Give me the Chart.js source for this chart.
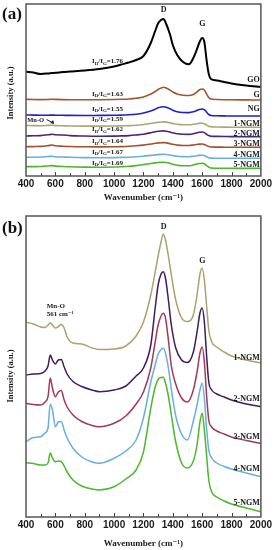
<!DOCTYPE html>
<html>
<head>
<meta charset="utf-8">
<script src="https://cdn.jsdelivr.net/npm/chart.js@4.4.1/dist/chart.umd.min.js"></script>
<style>
  html, body { margin: 0; padding: 0; background: #fff; }
  #wrapA { position: absolute; left: 0; top: 0; width: 274px; height: 208px; }
  #wrapB { position: absolute; left: 0; top: 208px; width: 274px; height: 342px; }
</style>
</head>
<body>
<div id="wrapA"><canvas id="chartA"></canvas></div>
<div id="wrapB"><canvas id="chartB"></canvas></div>
<script>
// ---- panel (a): offset Raman spectra (intensity in a.u., stacked) ----
const wavenumberA = [400, 450, 500, 550, 580, 600, 650, 700, 800, 900, 1000, 1050, 1100, 1150, 1200, 1250, 1280, 1300, 1320, 1337, 1355, 1380, 1400, 1430, 1470, 1510, 1540, 1560, 1580, 1600, 1615, 1630, 1645, 1660, 1700, 1750, 1800, 1900, 2000];
const goA =   [104.3, 103.5, 102, 102.5, 103, 103.2, 104, 104.5, 105.5, 107, 109.5, 111.5, 113.5, 116, 120, 133, 145, 152.7, 156, 157, 152, 142, 131, 121, 114, 111.7, 118, 125, 133, 138, 134, 116, 102, 97, 95.5, 94, 92.5, 90.5, 89];
const gA =    [76.7, 76.5, 76.4, 76.5, 76.7, 76.6, 76.4, 76.3, 76.2, 76.3, 76.5, 76.7, 77, 77.7, 79, 82, 84.5, 86.5, 88, 88.7, 88, 86, 84, 82, 80.8, 80.5, 81.5, 83.5, 86, 87, 86, 82, 78.5, 77, 76.5, 76.3, 76.2, 76.1, 76];
const ngA =   [61, 60.9, 60.8, 60.8, 60.9, 60.8, 60.7, 60.6, 60.5, 60.6, 60.7, 60.9, 61.2, 61.8, 63, 65, 66.8, 68.2, 69, 69.3, 68.8, 67.3, 65.8, 64.2, 63.5, 63.4, 64.2, 65.3, 66.5, 67, 66.4, 64, 61.5, 60.5, 60.2, 60.1, 60, 60, 60];
const ngm1A = [50.5, 50.4, 50.3, 50.6, 50.7, 50.4, 50.2, 50, 49.9, 49.9, 50, 50.2, 50.4, 50.8, 51.5, 52.5, 53.2, 53.7, 54, 54.1, 53.9, 53.2, 52.5, 51.7, 51.2, 51.2, 51.7, 52.2, 52.6, 52.7, 52.3, 51, 49.8, 49.2, 49, 48.9, 48.8, 48.7, 48.7];
const ngm2A = [40, 40.2, 40.4, 41.2, 41.7, 41.2, 41, 40.4, 40, 39.8, 39.9, 40.1, 40.4, 41, 41.8, 43.2, 44.2, 44.7, 45, 45.1, 44.8, 44, 43.2, 42.2, 41.7, 41.6, 42.2, 43, 43.7, 44, 43.4, 41.8, 40.4, 39.8, 39.6, 39.5, 39.4, 39.3, 39.3];
const ngm3A = [29.3, 29.4, 29.6, 30.4, 31, 30.2, 29.8, 29.5, 29.2, 29.1, 29.2, 29.4, 29.7, 30.2, 30.9, 32, 32.7, 33.1, 33.3, 33.4, 33.1, 32.4, 31.7, 30.9, 30.5, 30.5, 31, 31.5, 31.9, 32, 31.6, 30.5, 29.4, 29, 28.9, 28.8, 28.7, 28.7, 28.7];
const ngm4A = [18.7, 18.8, 19, 19.5, 19.8, 19.3, 19, 18.7, 18.4, 18.3, 18.4, 18.6, 18.8, 19.2, 19.8, 20.6, 21.1, 21.4, 21.6, 21.7, 21.5, 21, 20.4, 19.8, 19.4, 19.3, 19.8, 20.2, 20.6, 20.7, 20.4, 19.3, 18.3, 17.9, 17.8, 17.7, 17.7, 17.7, 17.7];
const ngm5A = [9.3, 9.4, 9.5, 10, 10.4, 9.9, 9.5, 9.2, 8.9, 8.8, 9, 9.3, 9.7, 10.4, 11.4, 12.5, 13.1, 13.5, 13.7, 13.8, 13.5, 12.7, 11.7, 10.7, 10.2, 10.2, 11, 11.9, 12.5, 12.7, 12.2, 10.3, 8.7, 8, 7.8, 7.7, 7.7, 7.6, 7.6];
const namesA = ['GO', 'G', 'NG', '1-NGM', '2-NGM', '3-NGM', '4-NGM', '5-NGM'];
const ratiosA = ['1.76', '1.63', '1.55', '1.59', '1.62', '1.64', '1.67', '1.69'];

// ---- panel (b): NGM composites ----
const wavenumberB = [400, 450, 500, 530, 550, 565, 580, 600, 620, 640, 660, 680, 720, 780, 850, 900, 1000, 1080, 1150, 1200, 1250, 1280, 1300, 1320, 1335, 1350, 1370, 1390, 1420, 1460, 1500, 1540, 1565, 1585, 1600, 1615, 1630, 1645, 1665, 1700, 1750, 1800, 1900, 2000];
const ngm1B = [194.7, 193, 190, 189.5, 192, 194, 192, 189, 190.5, 192.5, 189, 180, 174, 173, 169, 167.5, 168, 171, 181, 195, 222, 245, 261, 275, 283, 277, 261, 242, 217, 199, 195.5, 202, 222, 243, 249, 237, 212, 187, 175, 170, 165, 161, 157, 154];
const ngm2B = [142, 143, 143.5, 146, 151, 162, 157, 153, 157, 157.5, 150, 143, 135.5, 130.5, 127, 125.3, 127, 131, 141, 149, 172, 209, 232, 243, 245.3, 239, 217, 192, 169, 157, 154.5, 165, 185, 204, 209, 195, 162, 135, 127, 123, 120, 117, 113, 110.3];
const ngm3B = [113.7, 112.5, 112, 115, 120.3, 139, 129, 120.3, 125, 126.5, 117, 110, 102, 95.5, 91.5, 90.3, 93.7, 101, 113, 125, 149, 175, 192, 201, 203.7, 199, 177, 151, 133, 119, 115, 127, 145, 164, 170, 155, 122, 97, 90, 86, 83, 80, 76.5, 73.7];
const ngm4B = [75.3, 79.5, 80.3, 84, 89, 113, 107, 90.3, 95, 95.5, 87, 79, 68.7, 60, 55, 53.7, 58.7, 66, 77, 99, 135, 152, 163, 167.5, 168.7, 164, 149, 128, 101, 83, 77, 96, 112, 127, 133.7, 119, 89, 67, 59, 54, 50.5, 48, 44, 40.3];
const ngm5B = [54.3, 53.5, 52, 52, 54, 64, 59, 55.3, 56, 55.3, 51, 45, 37, 31, 28, 27, 30.3, 38, 47, 65, 109, 130, 137.5, 139.5, 139.7, 134, 121, 102, 75, 54, 49, 56, 72, 95, 103.7, 87, 62, 37, 25, 20, 16, 13, 9, 5.3];
const namesB = ['1-NGM', '2-NGM', '3-NGM', '4-NGM', '5-NGM'];

const serif = '"Liberation Serif", "DejaVu Serif", serif';

function lineSet(xs, ys, color, width) {
    return {
        data: xs.map((x, i) => ({ x: x, y: ys[i] })),
        borderColor: color,
        borderWidth: width,
        pointRadius: 0,
        fill: false,
        cubicInterpolationMode: 'monotone'
    };
}

function txt(ctx, s, x, y, font, align, color) {
    ctx.font = font;
    ctx.textAlign = align || 'left';
    ctx.textBaseline = 'middle';
    ctx.fillStyle = color || '#1a1a1a';
    ctx.fillText(s, x, y);
}

// I_D/I_G=value with subscripts
function ratioText(ctx, value, x, y) {
    const parts = [['I', 'bold 7px ' + serif, 0], ['D', 'bold 5px ' + serif, 1.8], ['/I', 'bold 7px ' + serif, 0], ['G', 'bold 5px ' + serif, 1.8], ['=' + value, 'bold 7px ' + serif, 0]];
    let cx = x;
    parts.forEach(p => {
        txt(ctx, p[0], cx, y + p[2], p[1], 'left');
        cx += ctx.measureText(p[0]).width;
    });
}

// frame + inward ticks + y title + panel letter
function framePlugin(letter, letterY, yTitleY) {
    return {
        id: 'frame' + letter,
        afterDatasetsDraw(chart) {
            const ctx = chart.ctx;
            const a = chart.chartArea;
            const xs = chart.scales.x;
            ctx.save();
            ctx.strokeStyle = '#555';
            ctx.lineWidth = 1.5;
            ctx.strokeRect(a.left, a.top, a.right - a.left, a.bottom - a.top);
            ctx.lineWidth = 1;
            ctx.strokeStyle = '#444';
            for (let v = 500; v < 2000; v += 100) {
                const p = Math.round(xs.getPixelForValue(v)) + 0.5;
                ctx.beginPath();
                ctx.moveTo(p, a.bottom);
                ctx.lineTo(p, a.bottom - (v % 200 === 0 ? 4 : 3));
                ctx.stroke();
            }
            txt(ctx, '(' + letter + ')', 2, letterY, 'bold 17px ' + serif, 'left', '#111');
            ctx.translate(11, yTitleY);
            ctx.rotate(-Math.PI / 2);
            txt(ctx, 'Intensity (a.u.)', 0, 0, 'bold 8.5px ' + serif, 'center', '#1a1a1a');
            ctx.restore();
        }
    };
}

const labelsA = {
    id: 'labelsA',
    afterDatasetsDraw(chart) {
        const ctx = chart.ctx;
        const X = v => chart.scales.x.getPixelForValue(v);
        const Y = v => chart.scales.y.getPixelForValue(v);
        const nameY = [96, 81, 67, 52, 42.5, 31.7, 21, 11.5];
        const ratioY = [114.5, 82, 67, 56.7, 46.5, 34.5, 24, 13];
        ctx.save();
        namesA.forEach((n, i) => txt(ctx, n, X(1992), Y(nameY[i]), 'bold 8px ' + serif, 'right'));
        ratiosA.forEach((r, i) => ratioText(ctx, r, X(849), Y(ratioY[i])));
        txt(ctx, 'D', X(1337), Y(166), 'bold 8px ' + serif, 'center');
        txt(ctx, 'G', X(1602), Y(152), 'bold 8px ' + serif, 'center');
        txt(ctx, 'Mn-O', X(408), Y(55.5), 'bold 6.5px ' + serif, 'left');
        // small arrow to the Mn-O band
        ctx.strokeStyle = '#222';
        ctx.fillStyle = '#222';
        ctx.lineWidth = 1;
        const x0 = X(540), y0 = Y(56.5), x1 = X(585), y1 = Y(53);
        ctx.beginPath(); ctx.moveTo(x0, y0); ctx.lineTo(x1, y1); ctx.stroke();
        ctx.beginPath(); ctx.moveTo(x1 + 1, y1 + 1); ctx.lineTo(x1 - 3, y1); ctx.lineTo(x1, y1 - 3); ctx.closePath(); ctx.fill();
        ctx.restore();
    }
};

const labelsB = {
    id: 'labelsB',
    afterDatasetsDraw(chart) {
        const ctx = chart.ctx;
        const X = v => chart.scales.x.getPixelForValue(v);
        const Y = v => chart.scales.y.getPixelForValue(v);
        const nameY = [158.7, 117.7, 80.3, 48, 13.7];
        ctx.save();
        namesB.forEach((n, i) => txt(ctx, n, X(1992), Y(nameY[i]), 'bold 8px ' + serif, 'right'));
        txt(ctx, 'D', X(1337), Y(289.7), 'bold 8px ' + serif, 'center');
        txt(ctx, 'G', X(1602), Y(256), 'bold 8px ' + serif, 'center');
        txt(ctx, 'Mn-O', X(541), Y(211.3), 'bold 7px ' + serif, 'left');
        txt(ctx, '561 cm\u207B\u00B9', X(541), Y(202.7), 'bold 7px ' + serif, 'left');
        ctx.restore();
    }
};

function makeOptions(yMax, padTop, axisHeight, titlePadBottom) {
    return {
        responsive: true,
        maintainAspectRatio: false,
        animation: false,
        devicePixelRatio: 1,
        layout: { padding: { left: 26, right: 13, top: padTop, bottom: 0 } },
        plugins: { legend: { display: false }, tooltip: { enabled: false } },
        scales: {
            x: {
                type: 'linear',
                min: 400,
                max: 2000,
                grid: { display: false, drawTicks: false },
                border: { display: false },
                ticks: {
                    stepSize: 200,
                    padding: 2,
                    maxRotation: 0,
                    autoSkip: false,
                    color: '#1a1a1a',
                    font: { family: '"Liberation Sans", Arial, sans-serif', size: 10, weight: 'bold' },
                    callback: value => String(value)
                },
                title: {
                    display: true,
                    text: 'Wavenumber (cm\u207B\u00B9)',
                    color: '#1a1a1a',
                    font: { family: serif, size: 9, weight: 'bold' },
                    padding: { top: 0, bottom: titlePadBottom }
                },
                afterFit(scale) { scale.height = axisHeight; }
            },
            y: { display: false, min: 0, max: yMax }
        }
    };
}

new Chart(document.getElementById('chartA'), {
    type: 'line',
    data: {
        datasets: [
            lineSet(wavenumberA, goA, '#000000', 2),
            lineSet(wavenumberA, gA, '#a5552c', 1.6),
            lineSet(wavenumberA, ngA, '#1f1fcc', 1.6),
            lineSet(wavenumberA, ngm1A, '#a9a874', 1.6),
            lineSet(wavenumberA, ngm2A, '#4b2672', 1.6),
            lineSet(wavenumberA, ngm3A, '#a0522d', 1.6),
            lineSet(wavenumberA, ngm4A, '#6aaee2', 1.6),
            lineSet(wavenumberA, ngm5A, '#4cb82c', 1.6)
        ]
    },
    options: makeOptions(172, 4, 32, 5),
    plugins: [framePlugin('a', 15, 93), labelsA]
});

new Chart(document.getElementById('chartB'), {
    type: 'line',
    data: {
        datasets: [
            lineSet(wavenumberB, ngm1B, '#a9a36e', 1.5),
            lineSet(wavenumberB, ngm2B, '#3f1d5e', 1.5),
            lineSet(wavenumberB, ngm3B, '#a3385c', 1.5),
            lineSet(wavenumberB, ngm4B, '#6aaee2', 1.5),
            lineSet(wavenumberB, ngm5B, '#4cb82c', 1.5)
        ]
    },
    options: makeOptions(301, 8, 33, 1),
    plugins: [framePlugin('b', 21, 168), labelsB]
});
</script>
</body>
</html>
